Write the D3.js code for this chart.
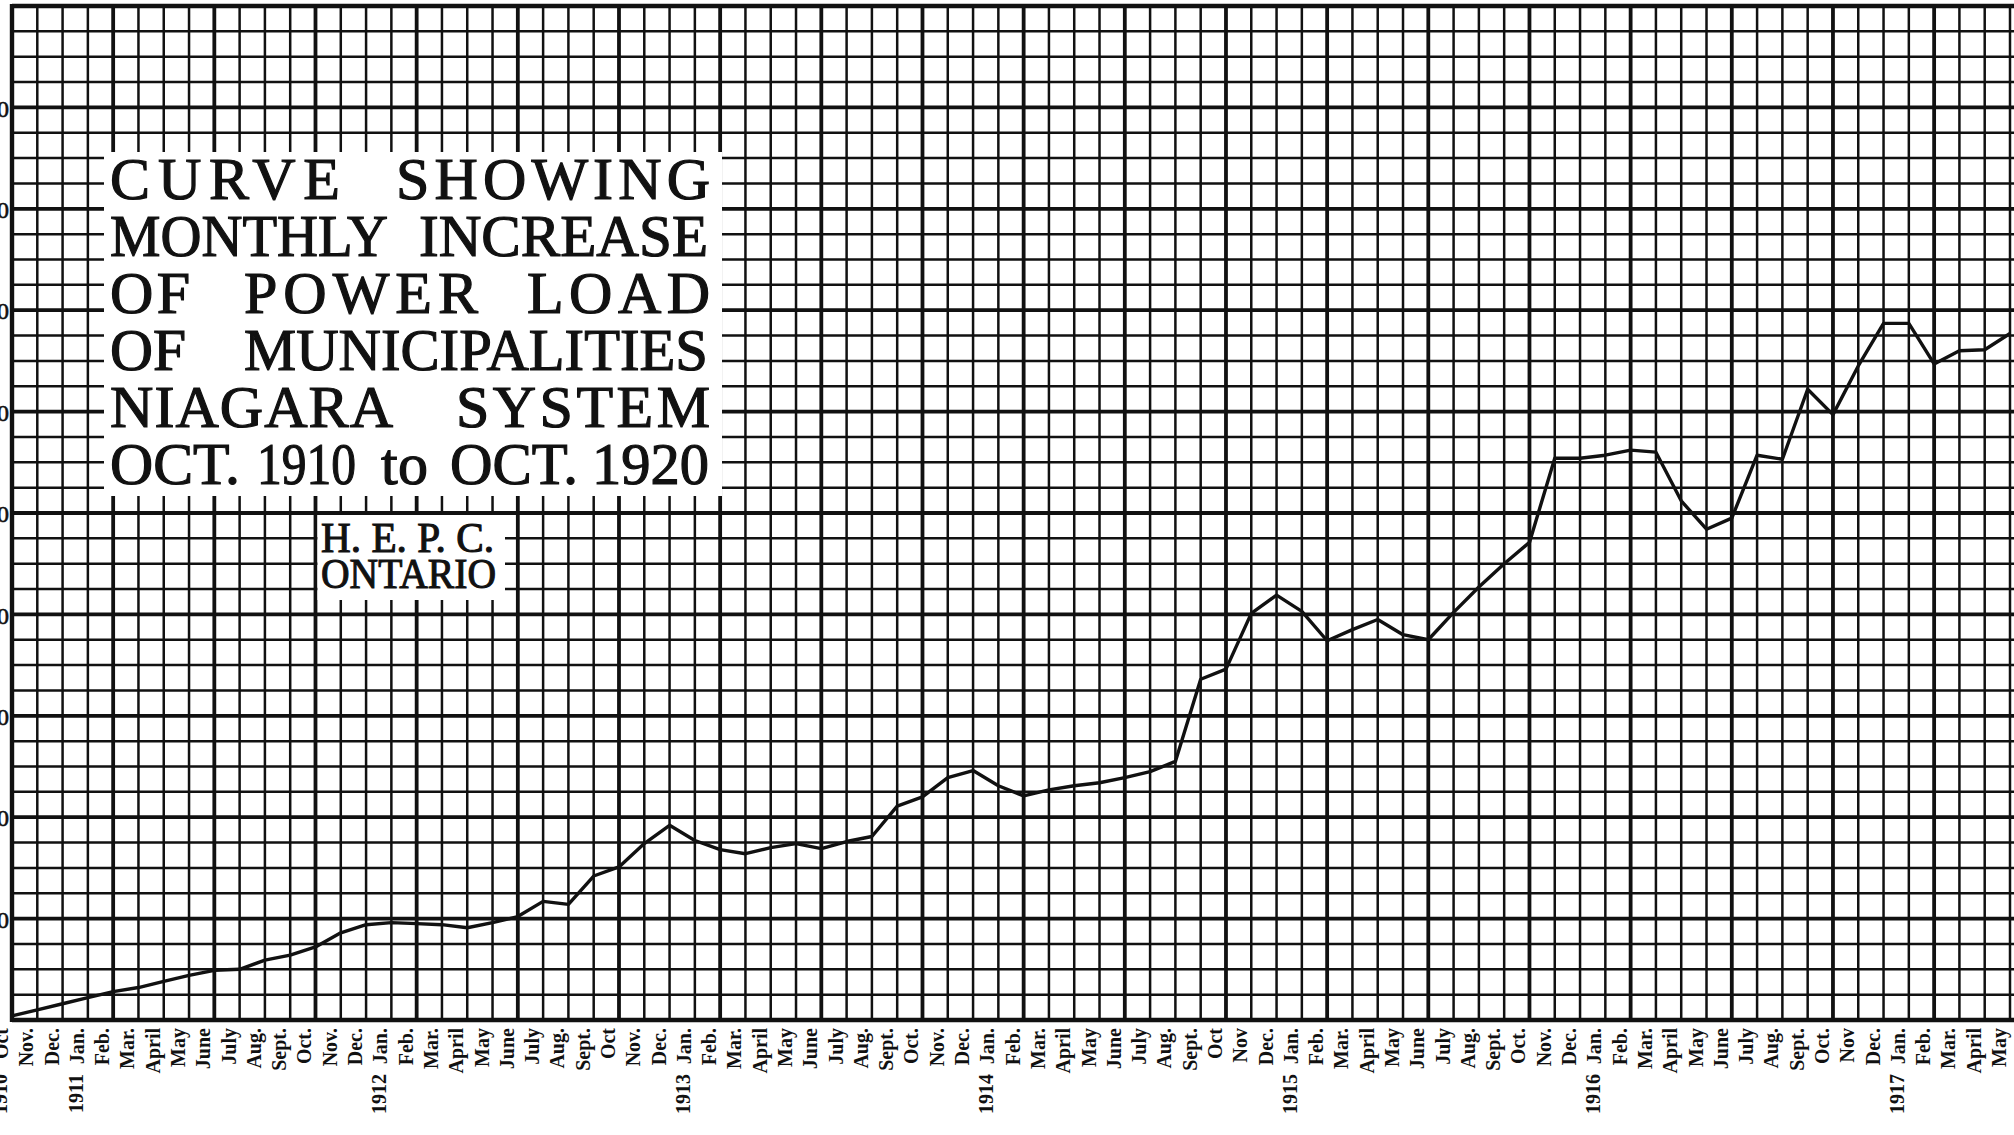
<!DOCTYPE html>
<html><head><meta charset="utf-8">
<script src="https://cdn.jsdelivr.net/npm/d3@7"></script>
<style>
html,body{margin:0;padding:0;background:#fff;overflow:hidden}
svg{display:block}
</style></head><body>
<svg id="c" width="2014" height="1135"></svg>
<script>
// ---- DATA ----
// Month labels, Oct 1910 .. May 1917 (one per grid column)
const months = [
 "Oct","Nov.","Dec.","Jan.","Feb.","Mar.","April","May","June","July","Aug.","Sept.",
 "Oct.","Nov.","Dec.","Jan.","Feb.","Mar.","April","May","June","July","Aug.","Sept.",
 "Oct","Nov.","Dec.","Jan.","Feb.","Mar.","April","May","June","July","Aug.","Sept.",
 "Oct.","Nov.","Dec.","Jan.","Feb.","Mar.","April","May","June","July","Aug.","Sept.",
 "Oct","Nov","Dec.","Jan.","Feb.","Mar.","April","May","June","July","Aug.","Sept.",
 "Oct.","Nov.","Dec.","Jan.","Feb.","Mar.","April","May","June","July","Aug.","Sept.",
 "Oct.","Nov","Dec.","Jan.","Feb.","Mar.","April","May"];
const yearLabels = ["1910","1911","1912","1913","1914","1915","1916","1917"];
const yearMonthIndex = [0,3,15,27,39,51,63,75];
// Monthly power load (horse-power)
const load = [
 400,1000,1600,2200,2800,3200,3800,4400,4900,5000,
 5900,6400,7200,8600,9400,9600,9500,9400,9100,9600,
 10200,11700,11400,14200,15100,17400,19200,17700,16800,16400,
 17000,17400,16900,17600,18100,21100,22000,23900,24600,23100,
 22100,22700,23100,23400,23900,24500,25500,33600,34600,40100,
 41900,40300,37400,38500,39500,38000,37500,40200,42700,45000,
 47100,55400,55400,55700,56200,56000,51200,48400,49500,55700,
 55300,62200,59700,64500,68700,68700,64700,66000,66100,67700];
const yTicks = [10000,20000,30000,40000,50000,60000,70000,80000,90000];
const titleLines = [
 ["CURVE","SHOWING"],
 ["MONTHLY","INCREASE"],
 ["OF","POWER","LOAD"],
 ["OF","MUNICIPALITIES"],
 ["NIAGARA","SYSTEM"],
 ["OCT.","1910","to","OCT.","1920"]];
const creditLines = ["H. E. P. C.","ONTARIO"];

// ---- LAYOUT ----
const W = 2014, H = 1135;
const svg = d3.select("#c");
svg.append("rect").attr("width",W).attr("height",H).attr("fill","#fff");

const x = d3.scaleLinear().domain([0, 79]).range([12, 2010]);
const y = d3.scaleLinear().domain([0, 100000]).range([1020, 6]);
const ink = "#111";

const grid = svg.append("g");
// vertical month lines
const cols = d3.range(0, 81);
grid.selectAll("line.v").data(cols).join("line")
  .attr("x1", d => x(d)).attr("x2", d => x(d))
  .attr("y1", y(100000)).attr("y2", y(0))
  .attr("stroke", ink)
  .attr("stroke-width", d => d % 4 === 0 ? 3.8 : 2.5);
// horizontal lines every 2,500
const rows = d3.range(0, 100001, 2500);
grid.selectAll("line.h").data(rows).join("line")
  .attr("x1", x(0)).attr("x2", W + 10)
  .attr("y1", d => y(d)).attr("y2", d => y(d))
  .attr("stroke", ink)
  .attr("stroke-width", d => d % 10000 === 0 ? 3.8 : 2.5);
// heavier frame
grid.append("line").attr("x1", x(0)).attr("x2", x(0)).attr("y1", y(100000)-2).attr("y2", y(0)+2)
  .attr("stroke", ink).attr("stroke-width", 4.4);
grid.append("line").attr("x1", x(0)).attr("x2", W+10).attr("y1", y(0)).attr("y2", y(0))
  .attr("stroke", ink).attr("stroke-width", 4.4);
grid.append("line").attr("x1", x(0)).attr("x2", W+10).attr("y1", y(100000)).attr("y2", y(100000))
  .attr("stroke", ink).attr("stroke-width", 4.4);

// y axis labels (cut by the page edge, as in the original scan)
const yAxis = d3.axisLeft(y).tickValues(yTicks).tickSize(0).tickPadding(0)
  .tickFormat(d3.format(","));
const ya = svg.append("g").attr("transform", "translate(9,0)").call(yAxis);
ya.select(".domain").remove();
ya.selectAll("text").attr("font-family","Liberation Serif").attr("font-size", 24)
  .attr("fill", ink).attr("stroke", ink).attr("stroke-width", 0.6)
  .attr("text-anchor","end").attr("dy","0.36em");

// the curve
svg.append("path").datum(load)
  .attr("fill","none").attr("stroke", ink).attr("stroke-width", 3.4)
  .attr("stroke-linejoin","round")
  .attr("d", d3.line().x((d,i) => x(i)).y(d => y(d)));

// title panel
svg.append("rect").attr("x",104).attr("y",152).attr("width",618).attr("height",344).attr("fill","#fff");
const wordSpans = [
 [[110,340],[396,710]],
 [[110,388],[419,708]],
 [[110,190],[244,478],[527,710]],
 [[110,186],[244,708]],
 [[110,393],[456,710]],
 [[110,240],[257,356],[381,428],[450,578],[592,709]]];
const baselines = [199,256,313,370,427,484];
const tg = svg.append("g").attr("font-family","Liberation Serif").attr("font-size",60)
  .attr("fill",ink).attr("stroke",ink).attr("stroke-width",1.2);
titleLines.forEach((words, li) => {
  words.forEach((w, wi) => {
    const [a, b] = wordSpans[li][wi];
    const t = tg.append("text").attr("x", a).attr("y", baselines[li]).text(w);
    const nat = t.node().getComputedTextLength();
    t.attr("textLength", b - a).attr("lengthAdjust", nat > (b - a) ? "spacingAndGlyphs" : "spacing");
  });
});

// credit panel
svg.append("rect").attr("x", x(12)+2).attr("y", y(50000)+2).attr("width", 505 - x(12) - 2)
  .attr("height", 600 - y(50000) - 2).attr("fill","#fff");
const cg = svg.append("g").attr("font-family","Liberation Serif").attr("font-size",42)
  .attr("fill",ink).attr("stroke",ink).attr("stroke-width",1.1);
const creditSpans = [[321,494],[321,496]];
const creditBase = [552,588];
creditLines.forEach((s, i) => {
  const t = cg.append("text").attr("x", creditSpans[i][0]).attr("y", creditBase[i]).text(s);
  t.attr("textLength", creditSpans[i][1]-creditSpans[i][0]).attr("lengthAdjust","spacingAndGlyphs");
});

// month labels (rotated)
const mg = svg.append("g").attr("font-family","Liberation Serif").attr("font-weight","bold")
  .attr("font-size",20).attr("fill",ink);
mg.selectAll("text.mo").data(months).join("text").attr("class","mo")
  .attr("transform", (d,i) => `translate(${x(i)-4},1028) rotate(-90)`)
  .attr("text-anchor","end")
  .text(d => d);
// year labels
mg.selectAll("text.yr").data(yearLabels).join("text").attr("class","yr")
  .attr("transform", (d,i) => `translate(${x(yearMonthIndex[i])-5},1074) rotate(-90)`)
  .attr("text-anchor","end")
  .text(d => d);
</script>
</body></html>
